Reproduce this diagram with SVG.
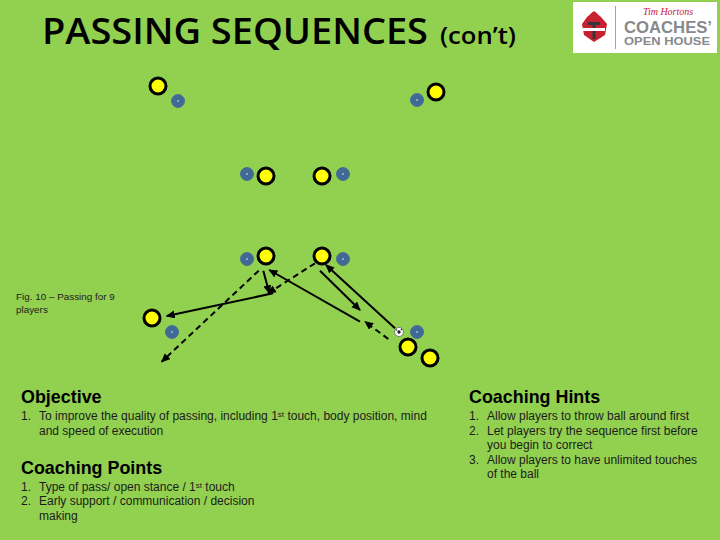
<svg xmlns="http://www.w3.org/2000/svg" width="720" height="540" viewBox="0 0 720 540">
<style>
.p{fill:#ffff00;stroke:#000;stroke-width:3}
.c{fill:#3f6a96;stroke:#4a7095;stroke-width:1}
.d{fill:#a8c0d0}
.l{fill:none;stroke:#000;stroke-width:2}
.s{stroke-dasharray:6 4}
text{font-family:"Liberation Sans",Arial,sans-serif;fill:#000}
.b{font-size:12px;fill:#1c1c1c}
.f{font-size:9.900px;fill:#1c1c1c}
.h{font-size:17.900px;font-weight:bold}
.t{font-family:"Open Sans",sans-serif;font-weight:600}
.g{fill:#87898c;font-weight:bold}
</style>
<defs>
<marker id="a" markerUnits="userSpaceOnUse" markerWidth="10" markerHeight="10" refX="8" refY="4" orient="auto"><path d="M0 0L9 4L0 8z" fill="#000"/></marker>
<g id="cone"><circle class="c" r="6.500"/><circle class="d" r="1"/></g>
<g id="player"><circle class="p" r="8"/></g>
</defs>
<rect id="background" width="720" height="540" fill="#92d050"/>
<g id="title"><text class="t" x="42" y="44" font-size="36" textLength="386" lengthAdjust="spacingAndGlyphs">PASSING SEQUENCES</text><text class="t" x="440" y="44" font-size="23" textLength="76" lengthAdjust="spacingAndGlyphs">(con’t)</text></g>
<g id="logo">
<rect x="573" y="2" width="144" height="51" fill="#fff"/>
<path d="M582 24L587 17L594 11L601 17L607 24L605 35L594 42L584 35z" fill="#c8202f"/>
<rect x="588" y="22" width="12" height="3" fill="#30363c"/>
<rect x="592.500" y="22" width="3" height="17" fill="#30363c"/>
<rect x="583" y="28" width="22" height="3" fill="#fff"/>
<circle cx="594" cy="15" r="3" fill="#c8202f"/>
<rect x="615" y="6" width="1" height="43" fill="#a0a2a5"/>
<text x="643" y="15" font-size="10" font-style="italic" style="font-family:'Liberation Serif',serif;fill:#c8202f" textLength="50" lengthAdjust="spacingAndGlyphs">Tim Hortons</text>
<text class="g" x="624" y="33" font-size="16" textLength="88" lengthAdjust="spacingAndGlyphs">COACHES’</text>
<text class="g" x="624" y="44.500" font-size="10.500" textLength="86" lengthAdjust="spacingAndGlyphs">OPEN HOUSE</text>
</g>
<g id="connectors">
<line class="l s" x1="258.700" y1="270.700" x2="161.700" y2="361.700" marker-end="url(#a)"/>
<line class="l s" x1="315" y1="263.300" x2="268" y2="293.300" marker-end="url(#a)"/>
<line class="l" x1="263.300" y1="270.700" x2="269.300" y2="293.300" marker-end="url(#a)"/>
<line class="l" x1="273" y1="293.300" x2="166.700" y2="316" marker-end="url(#a)"/>
<line class="l" x1="360" y1="321.700" x2="269.300" y2="270" marker-end="url(#a)"/>
<line class="l" x1="320" y1="270.700" x2="360" y2="310" marker-end="url(#a)"/>
<line class="l" x1="395" y1="328.300" x2="326" y2="265" marker-end="url(#a)"/>
<line class="l s" x1="388.300" y1="339" x2="365" y2="321.700" marker-end="url(#a)"/>
</g>
<use id="cone1" href="#cone" x="178" y="101"/>
<use id="cone2" href="#cone" x="417" y="100"/>
<use id="cone3" href="#cone" x="247" y="174"/>
<use id="cone4" href="#cone" x="343" y="174"/>
<use id="cone5" href="#cone" x="247" y="259"/>
<use id="cone6" href="#cone" x="343" y="259"/>
<use id="cone7" href="#cone" x="172" y="332"/>
<use id="cone8" href="#cone" x="417" y="332"/>
<use id="player1" href="#player" x="158" y="86"/>
<use id="player2" href="#player" x="436" y="92"/>
<use id="player3" href="#player" x="266" y="176"/>
<use id="player4" href="#player" x="322" y="176"/>
<use id="player5" href="#player" x="266" y="256"/>
<use id="player6" href="#player" x="322" y="256"/>
<use id="player7" href="#player" x="152" y="318"/>
<use id="player8" href="#player" x="408" y="347"/>
<use id="player9" href="#player" x="430" y="358"/>
<g id="ball"><circle cx="399" cy="332" r="4.500" fill="#fff" stroke="#777" stroke-width="1"/><circle cx="399" cy="332" r="1.700" fill="#222"/><circle cx="396.500" cy="330" r=".8" fill="#222"/><circle cx="401.500" cy="329.500" r=".8" fill="#222"/></g>
<g id="caption"><text class="f" x="16" y="300">Fig. 10 – Passing for 9</text><text class="f" x="16" y="313">players</text></g>
<g id="objective"><text class="h" x="21" y="403">Objective</text>
<text class="b" x="21" y="420">1.</text><text class="b" x="39" y="420">To improve the quality of passing, including 1<tspan font-size="8" dy="-3">st</tspan><tspan dy="3"> touch, body position, mind</tspan></text>
<text class="b" x="39" y="435">and speed of execution</text></g>
<g id="points"><text class="h" x="21" y="474">Coaching Points</text>
<text class="b" x="21" y="491">1.</text><text class="b" x="39" y="491">Type of pass/ open stance / 1<tspan font-size="8" dy="-3">st</tspan><tspan dy="3"> touch</tspan></text>
<text class="b" x="21" y="505">2.</text><text class="b" x="39" y="505">Early support / communication / decision</text>
<text class="b" x="39" y="520">making</text></g>
<g id="hints"><text class="h" x="469" y="403">Coaching Hints</text>
<text class="b" x="469" y="420">1.</text><text class="b" x="487" y="420">Allow players to throw ball around first</text>
<text class="b" x="469" y="435">2.</text><text class="b" x="487" y="435">Let players try the sequence first before</text>
<text class="b" x="487" y="449">you begin to correct</text>
<text class="b" x="469" y="464">3.</text><text class="b" x="487" y="464">Allow players to have unlimited touches</text>
<text class="b" x="487" y="478">of the ball</text></g>
</svg>
